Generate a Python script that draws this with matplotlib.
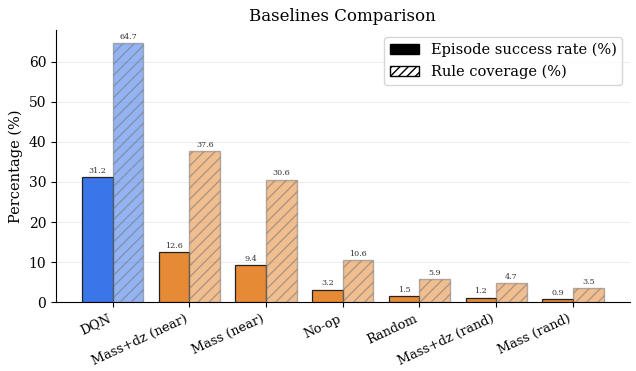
import matplotlib
matplotlib.use("Agg")
import matplotlib.pyplot as plt
import numpy as np
from matplotlib.patches import Patch

methods = ["DQN", "Mass+dz (near)", "Mass (near)", "No-op", "Random",
           "Mass+dz (rand)", "Mass (rand)"]
success = [31.2, 12.6, 9.4, 3.2, 1.5, 1.2, 0.9]
coverage = [64.7, 37.6, 30.6, 10.6, 5.9, 4.7, 3.5]

plt.rcParams["font.family"] = "DejaVu Serif"

blue = "#3b76e8"
orange = "#e68a35"
colors = [blue] + [orange] * (len(methods) - 1)

fig, ax = plt.subplots(figsize=(6.36, 3.71), dpi=100)
x = np.arange(len(methods))
w = 0.4

b1 = ax.bar(x - w / 2, success, w, color=colors, edgecolor="#222222", linewidth=0.9, zorder=3)
b2 = ax.bar(x + w / 2, coverage, w, color=colors, alpha=0.55, edgecolor="#777777",
            linewidth=1.0, hatch="///", zorder=3)

for bars, vals in [(b1, success), (b2, coverage)]:
    for b, v in zip(bars, vals):
        ax.annotate(f"{v}", (b.get_x() + b.get_width() / 2, b.get_height()),
                    xytext=(0, 1.5), textcoords="offset points",
                    ha="center", va="bottom", fontsize=5.8, color="#333333")

ax.set_xticks(x)
ax.set_xticklabels(methods, rotation=25, ha="right", fontsize=9.3)
ax.set_ylabel("Percentage (%)", fontsize=10.5)
ax.set_title("Baselines Comparison", fontsize=12)
ax.set_ylim(0, max(coverage) * 1.05)
ax.yaxis.grid(True, color="#eeeeee", linewidth=0.8, zorder=0)
ax.set_axisbelow(True)
ax.spines["top"].set_visible(False)
ax.spines["right"].set_visible(False)
ax.tick_params(axis="y", labelsize=10)

handles = [Patch(facecolor="black", edgecolor="black", label="Episode success rate (%)"),
           Patch(facecolor="white", edgecolor="black", hatch="////", label="Rule coverage (%)")]
ax.legend(handles=handles, loc="upper right", fontsize=10.5)

fig.subplots_adjust(left=0.088, right=0.99, top=0.92, bottom=0.185)
fig.savefig("out.png", dpi=100)
